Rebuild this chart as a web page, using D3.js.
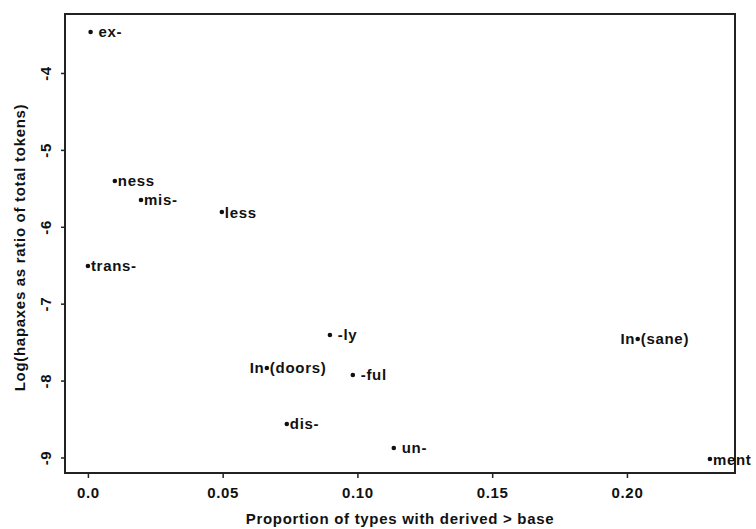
<!DOCTYPE html>
<html>
<head>
<meta charset="utf-8">
<script src="https://cdn.jsdelivr.net/npm/d3@7"></script>
<style>
  html, body { margin: 0; padding: 0; background: #fff; }
  svg { display: block; }
  text { font-family: "Liberation Sans", Arial, Helvetica, sans-serif; fill: #111; }
</style>
</head>
<body>
<svg id="chart" width="756" height="529"></svg>
<script>
// ---- data ----
const affixes = ["ex-", "ness", "mis-", "less", "trans-", "-ly", "-ful", "In-(doors)", "In-(sane)", "dis-", "un-", "ment"];
const labels  = [" ex-", "ness", "mis-", "less", "trans-", " -ly", " -ful", "In-(doors)", "In-(sane)", "dis-", " un-", "ment"];
const proportion = [0.001, 0.010, 0.0197, 0.0497, 0.000, 0.0898, 0.0983, 0.0664, 0.2040, 0.0738, 0.1135, 0.2308];
const logHapax  = [-3.467, -5.404, -5.651, -5.808, -6.51, -7.407, -7.927, -7.836, -7.459, -8.564, -8.876, -9.02];
const xTicks = [0, 0.05, 0.10, 0.15, 0.20];
const xTickLabels = ["0.0", "0.05", "0.10", "0.15", "0.20"];
const yTicks = [-4, -5, -6, -7, -8, -9];
const yTickLabels = ["-4", "-5", "-6", "-7", "-8", "-9"];
const xTitle = "Proportion of types with derived > base";
const yTitle = "Log(hapaxes as ratio of total tokens)";

// ---- layout ----
const svg = d3.select("#chart");
const L = 65, R = 735, T = 14, B = 473;
const x = d3.scaleLinear().domain([-0.0085, 0.2401]).range([L, R]);
const y = d3.scaleLinear().domain([-9.202, -3.233]).range([B, T]);

const fontSize = 15;
const ls = "0.7px";

// x axis
const xAxis = svg.append("g").attr("transform", `translate(0,${B})`)
  .call(d3.axisBottom(x).tickValues(xTicks).tickFormat((d, i) => xTickLabels[i]).tickSize(5).tickPadding(9));
xAxis.select(".domain").remove();
xAxis.selectAll("line").attr("stroke", "#222").attr("stroke-width", 1.5);
xAxis.selectAll("text").attr("font-size", fontSize).attr("font-weight", "bold")
  .attr("letter-spacing", ls).attr("font-family", "Liberation Sans, Arial, sans-serif").attr("fill", "#111");

// y axis
const yAxis = svg.append("g").attr("transform", `translate(${L},0)`)
  .call(d3.axisLeft(y).tickValues(yTicks).tickFormat((d, i) => yTickLabels[i]).tickSize(4).tickPadding(0));
yAxis.select(".domain").remove();
yAxis.selectAll("line").attr("stroke", "#222").attr("stroke-width", 1.5);
yAxis.selectAll("text")
  .attr("font-size", fontSize).attr("font-weight", "bold").attr("letter-spacing", ls)
  .attr("font-family", "Liberation Sans, Arial, sans-serif").attr("fill", "#111")
  .attr("text-anchor", "middle").attr("dy", null).attr("x", null)
  .attr("transform", "translate(-20,0) rotate(-90)")
  .attr("dominant-baseline", "central");

// box
svg.append("rect").attr("x", L).attr("y", T).attr("width", R - L).attr("height", B - T)
  .attr("fill", "none").attr("stroke", "#222").attr("stroke-width", 2);

// points
const idx = d3.range(affixes.length);
svg.append("g").selectAll("circle").data(idx).join("circle")
  .attr("cx", i => x(proportion[i])).attr("cy", i => y(logHapax[i]))
  .attr("r", 2.3).attr("fill", "#111");

// labels
const lg = svg.append("g");
idx.forEach(i => {
  const px = x(proportion[i]), py = y(logHapax[i]);
  const lab = labels[i];
  if (lab.includes("-(")) {
    const [pre, post] = lab.split("-(");
    lg.append("text").attr("x", px - 2.5).attr("y", py).attr("text-anchor", "end")
      .attr("dominant-baseline", "central").attr("font-size", fontSize).attr("font-weight", "bold")
      .attr("letter-spacing", ls).text(pre);
    lg.append("text").attr("x", px + 3).attr("y", py).attr("text-anchor", "start")
      .attr("dominant-baseline", "central").attr("font-size", fontSize).attr("font-weight", "bold")
      .attr("letter-spacing", ls).text("(" + post);
  } else {
    lg.append("text").attr("x", px + 3).attr("y", py).attr("text-anchor", "start")
      .attr("dominant-baseline", "central").attr("font-size", fontSize).attr("font-weight", "bold")
      .attr("letter-spacing", ls).style("white-space", "pre").text(lab);
  }
});

// axis titles
svg.append("text").attr("x", (L + R) / 2).attr("y", 518).attr("text-anchor", "middle")
  .attr("dominant-baseline", "central").attr("font-size", fontSize).attr("font-weight", "bold")
  .attr("letter-spacing", ls).text(xTitle);
svg.append("text").attr("transform", `translate(19,${(T + B) / 2 + 4}) rotate(-90)`)
  .attr("text-anchor", "middle").attr("dominant-baseline", "central")
  .attr("font-size", fontSize).attr("font-weight", "bold").attr("letter-spacing", ls).text(yTitle);
</script>
</body>
</html>
